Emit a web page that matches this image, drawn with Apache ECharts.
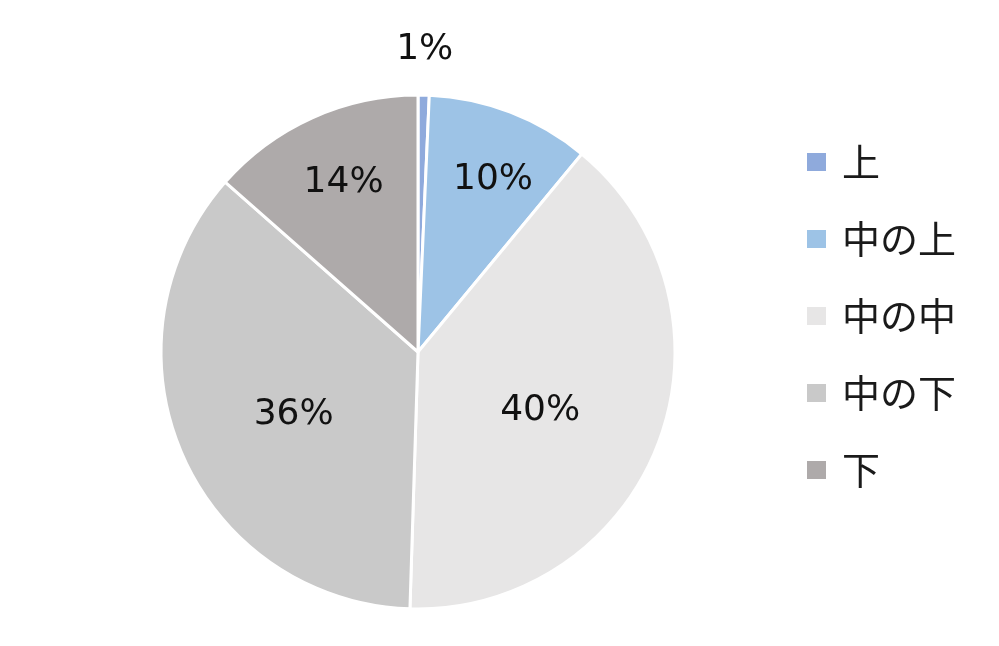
<!DOCTYPE html>
<html><head><meta charset="utf-8">
<script src="https://cdn.jsdelivr.net/npm/echarts@6/dist/echarts.min.js"></script>
<style>html,body{margin:0;padding:0;background:#fff}#c{width:999px;height:646px}</style>
</head><body><div id="c"></div>
<script>
const categories = ['上', '中の上', '中の中', '中の下', '下'];
const values = [0.7, 10.3, 39.5, 36.0, 13.5];
const colors = ['#8FAADC', '#9DC3E6', '#E7E6E6', '#C9C9C9', '#AEAAAA'];
// label placement styling (radial scale + small nudge), not data
const labelScale = [2.34, 1.46, 1.05, 1.08, 1.43];
const labelNudge = [[0, 5], [6, 7], [-7, 10], [6, 6], [3, 2]];

const CX = 418, CY = 352, R = 257;
const chart = echarts.init(document.getElementById('c'), null, {renderer: 'canvas'});
chart.setOption({
  animation: false,
  backgroundColor: '#fff',
  color: colors,
  legend: {
    orient: 'vertical',
    left: 805,
    top: 138,
    padding: 0,
    itemWidth: 21,
    itemHeight: 20,
    itemGap: 29,
    icon: 'rect',
    data: categories,
    textStyle: {fontFamily: '"Noto Sans CJK JP"', fontSize: 38, color: '#1a1a1a', lineHeight: 36, padding: [0, 0, 12, 10]}
  },
  series: [{
    type: 'pie',
    center: [CX, CY],
    radius: [0, R],
    startAngle: 90,
    clockwise: true,
    avoidLabelOverlap: false,
    itemStyle: {borderColor: '#fff', borderWidth: 3},
    label: {
      show: true,
      position: 'inside',
      formatter: p => Math.round(p.percent) + '%',
      fontFamily: 'DejaVu Sans',
      fontSize: 36,
      color: '#111'
    },
    labelLine: {show: false},
    labelLayout: function (params) {
      const r = params.labelRect;
      const i = params.dataIndex;
      const lx = r.x + r.width / 2, ly = r.y + r.height / 2;
      const k = labelScale[i];
      return {x: CX + (lx - CX) * k + labelNudge[i][0], y: CY + (ly - CY) * k + labelNudge[i][1], align: 'center', verticalAlign: 'middle'};
    },
    emphasis: {disabled: true},
    data: categories.map((n, i) => ({name: n, value: values[i]}))
  }]
});
</script>
</body></html>
